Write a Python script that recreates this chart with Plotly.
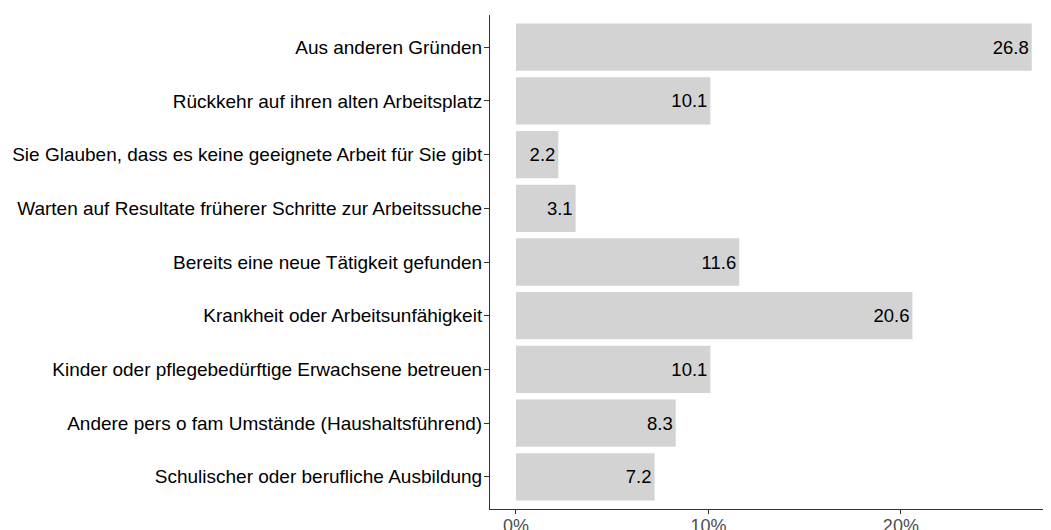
import plotly.graph_objects as go

categories = [
    "Aus anderen Gründen",
    "Rückkehr auf ihren alten Arbeitsplatz",
    "Sie Glauben, dass es keine geeignete Arbeit für Sie gibt",
    "Warten auf Resultate früherer Schritte zur Arbeitssuche",
    "Bereits eine neue Tätigkeit gefunden",
    "Krankheit oder Arbeitsunfähigkeit",
    "Kinder oder pflegebedürftige Erwachsene betreuen",
    "Andere pers o fam Umstände (Haushaltsführend)",
    "Schulischer oder berufliche Ausbildung",
]
values = [26.8, 10.1, 2.2, 3.1, 11.6, 20.6, 10.1, 8.3, 7.2]
tick_vals = [0, 10, 20]
tick_text = ["0%", "10%", "20%"]

fig = go.Figure(
    go.Bar(
        x=values,
        y=categories,
        orientation="h",
        width=0.88,
        marker=dict(color="#d3d3d3", line=dict(width=0)),
        text=[f"{v:.1f}" for v in values],
        textposition="inside",
        insidetextanchor="end",
        textfont=dict(color="black", size=18.5, family="Liberation Sans, Arial"),
        cliponaxis=False,
    )
)

fig.update_layout(
    width=1051,
    height=530,
    margin=dict(l=482, r=8, t=7, b=29),
    plot_bgcolor="white",
    paper_bgcolor="white",
    showlegend=False,
    font=dict(family="Liberation Sans, Arial", color="black"),
)
fig.update_xaxes(
    range=[-1.35, 27.8],
    tickvals=tick_vals,
    ticktext=tick_text,
    showgrid=False,
    zeroline=False,
    showline=True,
    linecolor="#333333",
    linewidth=1,
    ticks="outside",
    ticklen=4,
    tickcolor="#333333",
    tickfont=dict(size=18, color="#4d4d4d"),
    ticklabelstandoff=-4,
    automargin=False,
)
fig.update_yaxes(
    categoryorder="array",
    categoryarray=categories,
    range=[8.6, -0.6],
    showgrid=False,
    zeroline=False,
    showline=True,
    linecolor="#333333",
    linewidth=1,
    ticks="outside",
    ticklen=5,
    tickcolor="#333333",
    tickfont=dict(size=19, color="black"),
    ticklabelstandoff=-2,
    automargin=False,
)

fig.write_html("out.html")
